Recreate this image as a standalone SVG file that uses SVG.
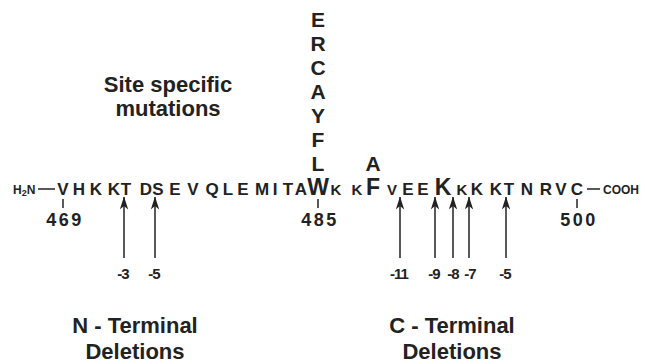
<svg xmlns="http://www.w3.org/2000/svg" width="645" height="364" viewBox="0 0 645 364">
  <defs>
    <marker id="head" markerWidth="13" markerHeight="9" refX="12.5" refY="4.5" orient="auto" markerUnits="userSpaceOnUse" viewBox="0 0 13 9">
      <path d="M13 4.5 L0 0.3 L3.5 4.5 L0 8.7 Z" fill="#222"/>
    </marker>
    <style>
      .aa { font-family: "Liberation Sans", Arial, sans-serif; font-weight: bold; fill: #222; text-anchor: middle; }
      .seq { font-size: 17px; }
      .sm { font-size: 15px; }
      .big { font-size: 23px; }
      .stack { font-size: 21px; }
      .num { font-family: "Liberation Sans", Arial, sans-serif; font-weight: bold; font-size: 18px; fill: #222; text-anchor: middle; letter-spacing: 2.5px; }
      .del { font-family: "Liberation Sans", Arial, sans-serif; font-weight: bold; font-size: 15px; fill: #222; text-anchor: middle; letter-spacing: -1px; }
      .title { font-family: "Liberation Sans", Arial, sans-serif; font-weight: bold; font-size: 22px; fill: #222; text-anchor: middle; }
      .end { font-family: "Liberation Sans", Arial, sans-serif; font-weight: bold; font-size: 12px; fill: #222; }
      .tick { stroke: #222; stroke-width: 1.5; fill: none; }
      .arrow { stroke: #222; stroke-width: 1.5; fill: none; marker-end: url(#head); }
    </style>
  </defs>

  <!-- site-specific mutation heading -->
  <g id="site-label">
    <text class="title" x="168" y="92">Site specific</text>
    <text class="title" x="168" y="116">mutations</text>
  </g>

  <!-- substitutions at W485 (stacked) and at F488 -->
  <g id="w485-subs" class="aa stack">
    <text x="318" y="27">E</text>
    <text x="318" y="51">R</text>
    <text x="318" y="75">C</text>
    <text x="318" y="99">A</text>
    <text x="318" y="123">Y</text>
    <text x="318" y="147">F</text>
    <text x="318" y="171">L</text>
  </g>
  <g id="f488-sub" class="aa stack">
    <text x="373" y="171">A</text>
  </g>

  <!-- peptide sequence 469-500 -->
  <g id="sequence">
    <text class="end" x="13" y="194">H<tspan font-size="9" dy="2">2</tspan><tspan dy="-2">N</tspan></text>
    <line class="tick" x1="38" y1="189" x2="55" y2="189"/>
    <g class="aa seq">
      <text x="63" y="195">V</text>
      <text x="79" y="195">H</text>
      <text x="96" y="195">K</text>
      <text x="114" y="195">K</text>
      <text x="126" y="195">T</text>
      <text x="146" y="195">D</text>
      <text x="158" y="195">S</text>
      <text x="175" y="195">E</text>
      <text x="193" y="195">V</text>
      <text x="212" y="195">Q</text>
      <text x="228" y="195">L</text>
      <text x="243" y="195">E</text>
      <text x="262" y="195">M</text>
      <text x="275" y="195">I</text>
      <text x="288" y="195">T</text>
      <text x="301" y="195">A</text>
      <text class="big" x="318" y="195">W</text>
      <text class="sm" x="336" y="195">K</text>
      <text class="sm" x="357" y="195">K</text>
      <text class="big" x="373" y="195">F</text>
      <text class="sm" x="392" y="195">V</text>
      <text x="408" y="195">E</text>
      <text x="423" y="195">E</text>
      <text class="big" x="443" y="195">K</text>
      <text class="sm" x="462" y="195">K</text>
      <text x="477" y="195">K</text>
      <text x="496" y="195">K</text>
      <text x="509" y="195">T</text>
      <text x="527" y="195">N</text>
      <text x="546" y="195">R</text>
      <text x="561" y="195">V</text>
      <text x="577" y="195">C</text>
    </g>
    <line class="tick" x1="587" y1="189" x2="600" y2="189"/>
    <text class="end" x="603" y="194">COOH</text>
  </g>

  <!-- residue numbering -->
  <g id="numbering">
    <line class="tick" x1="63" y1="199" x2="63" y2="208"/>
    <line class="tick" x1="318" y1="199" x2="318" y2="208"/>
    <line class="tick" x1="577" y1="199" x2="577" y2="208"/>
    <text class="num" x="65" y="226">469</text>
    <text class="num" x="320" y="226">485</text>
    <text class="num" x="579" y="226">500</text>
  </g>

  <!-- deletion end points -->
  <g id="connectors">
    <line class="arrow" x1="124" y1="258" x2="124" y2="197"/>
    <line class="arrow" x1="155" y1="258" x2="155" y2="197"/>
    <line class="arrow" x1="400" y1="258" x2="400" y2="197"/>
    <line class="arrow" x1="435" y1="258" x2="435" y2="197"/>
    <line class="arrow" x1="453" y1="258" x2="453" y2="197"/>
    <line class="arrow" x1="469" y1="258" x2="469" y2="197"/>
    <line class="arrow" x1="506" y1="258" x2="506" y2="197"/>
  </g>

  <g id="n-deletions">
    <text class="del" x="123" y="279">-3</text>
    <text class="del" x="154" y="279">-5</text>
    <text class="title" x="135" y="333">N - Terminal</text>
    <text class="title" x="135" y="359">Deletions</text>
  </g>

  <g id="c-deletions">
    <text class="del" x="399" y="279">-11</text>
    <text class="del" x="434" y="279">-9</text>
    <text class="del" x="453" y="279">-8</text>
    <text class="del" x="470" y="279">-7</text>
    <text class="del" x="505" y="279">-5</text>
    <text class="title" x="452" y="333">C - Terminal</text>
    <text class="title" x="452" y="359">Deletions</text>
  </g>
</svg>
